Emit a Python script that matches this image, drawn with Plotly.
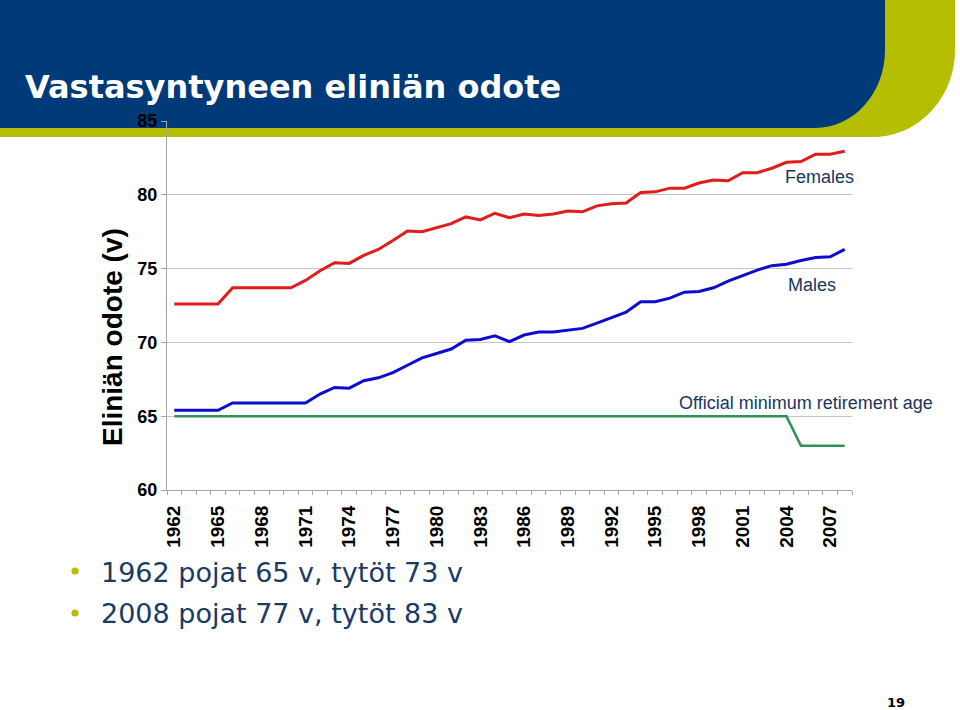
import plotly.graph_objects as go

years = list(range(1962, 2009))
females = [72.6, 72.6, 72.6, 72.6, 73.7, 73.7, 73.7, 73.7, 73.7, 74.2,
           74.85, 75.4, 75.35, 75.9, 76.3, 76.9, 77.55, 77.5, 77.8, 78.05,
           78.5, 78.3, 78.75, 78.45, 78.7, 78.6, 78.7, 78.9, 78.85, 79.25,
           79.4, 79.45, 80.15, 80.2, 80.45, 80.45, 80.8, 81.0, 80.95, 81.5,
           81.5, 81.8, 82.2, 82.25, 82.75, 82.75, 82.95]
males = [65.4, 65.4, 65.4, 65.4, 65.9, 65.9, 65.9, 65.9, 65.9, 65.9,
         66.5, 66.95, 66.9, 67.4, 67.6, 67.95, 68.45, 68.95, 69.25, 69.55,
         70.15, 70.2, 70.45, 70.05, 70.5, 70.7, 70.7, 70.85, 70.95, 71.3,
         71.65, 72.05, 72.75, 72.75, 73.0, 73.4, 73.45, 73.7, 74.15, 74.55,
         74.9, 75.2, 75.3, 75.55, 75.75, 75.8, 76.3]
retirement = [65] * 43 + [63] * 4
tick_years = list(range(1962, 2008, 3))
tick_labels = [str(y) for y in tick_years]
y_ticks = [60, 65, 70, 75, 80, 85]

W, H = 960, 710
L, R, T, B = 167, 852, 121, 490


def px(x):
    return (x - L) / (R - L)


def py(y):
    return (B - y) / (B - T)


def path(points_cmds):
    out = []
    for cmd, pts in points_cmds:
        s = cmd + " ".join(f"{px(x):.5f},{py(y):.5f}" for x, y in pts)
        out.append(s)
    return " ".join(out) + " Z"


BLUE_HDR = "#003A78"
OLIVE = "#B5BF00"
NAVY = "#17375E"

fig = go.Figure()
fig.add_trace(go.Scatter(x=years, y=retirement, mode="lines",
                         line=dict(color="#31915A", width=2.6), name="Retirement"))
fig.add_trace(go.Scatter(x=years, y=males, mode="lines",
                         line=dict(color="#0C0CD0", width=3), name="Males"))
fig.add_trace(go.Scatter(x=years, y=females, mode="lines",
                         line=dict(color="#E21B1B", width=3), name="Females"))

# header shapes
olive_path = path([
    ("M", [(0, 0)]), ("L", [(955, 0)]), ("L", [(955, 50)]),
    ("C", [(955, 98), (918, 137), (873, 137)]),
    ("L", [(0, 137)]),
])
blue_path = path([
    ("M", [(0, 0)]), ("L", [(885, 0)]), ("L", [(885, 50)]),
    ("C", [(885, 93), (854, 128), (815, 128)]),
    ("L", [(0, 128)]),
])
fig.add_shape(type="path", path=olive_path, xref="paper", yref="paper",
              fillcolor=OLIVE, line=dict(width=0), layer="below")
fig.add_shape(type="path", path=blue_path, xref="paper", yref="paper",
              fillcolor=BLUE_HDR, line=dict(width=0), layer="below")

# bullets
for yy in (571, 613):
    r = 3.6
    fig.add_shape(type="circle", xref="paper", yref="paper",
                  x0=px(75 - r), x1=px(75 + r), y0=py(yy + r), y1=py(yy - r),
                  fillcolor=OLIVE, line=dict(width=0))

annotations = [
    dict(text="Vastasyntyneen eliniän odote", x=px(23), y=py(87),
         xanchor="left", yanchor="middle",
         font=dict(family="DejaVu Sans", size=32, color="white", weight="bold")),
    dict(text="Eliniän odote (v)", x=px(112), y=py(337), textangle=-90,
         xanchor="center", yanchor="middle",
         font=dict(family="Liberation Sans", size=28, color="black", weight="bold")),
    dict(text="Females", x=px(819), y=py(177), xanchor="center", yanchor="middle",
         font=dict(family="Liberation Sans", size=18, color=NAVY)),
    dict(text="Males", x=px(812), y=py(285), xanchor="center", yanchor="middle",
         font=dict(family="Liberation Sans", size=18, color=NAVY)),
    dict(text="Official minimum retirement age", x=px(806), y=py(403),
         xanchor="center", yanchor="middle",
         font=dict(family="Liberation Sans", size=18, color=NAVY)),
    dict(text="1962 pojat 65 v, tytöt 73 v", x=px(99), y=py(572),
         xanchor="left", yanchor="middle",
         font=dict(family="DejaVu Sans", size=27, color="#1B3A66")),
    dict(text="2008 pojat 77 v, tytöt 83 v", x=px(99), y=py(613),
         xanchor="left", yanchor="middle",
         font=dict(family="DejaVu Sans", size=27, color="#1B3A66")),
    dict(text="19", x=px(896), y=py(702), xanchor="center", yanchor="middle",
         font=dict(family="DejaVu Sans", size=13, color="black", weight="bold")),
]
for a in annotations:
    a.update(xref="paper", yref="paper", showarrow=False)

fig.update_layout(
    width=W, height=H,
    margin=dict(l=L, r=W - R, t=T, b=H - B, pad=0),
    paper_bgcolor="white",
    plot_bgcolor="rgba(0,0,0,0)",
    showlegend=False,
    annotations=annotations,
    xaxis=dict(
        range=[1961.5, 2008.5],
        tickmode="array", tickvals=tick_years, ticktext=tick_labels,
        tickangle=-90,
        ticks="outside", ticklen=4, tickcolor="rgba(0,0,0,0)",
        ticklabelstandoff=3,
        tickfont=dict(family="Liberation Sans", size=19, color="black", weight="bold"),
        showgrid=False, zeroline=False,
        showline=True, linecolor="#A6A6A6", linewidth=1,
        minor=dict(tickmode="array", tickvals=[1961.5 + i for i in range(48)],
                   ticks="outside", ticklen=4, tickcolor="#A6A6A6", showgrid=False),
        fixedrange=True,
    ),
    yaxis=dict(
        range=[60, 85],
        tickmode="array", tickvals=y_ticks,
        ticks="outside", ticklen=5, tickcolor="#A6A6A6",
        tickfont=dict(family="Liberation Sans", size=18, color="black", weight="bold"),
        showgrid=True, gridcolor="#C4C4C4", gridwidth=1,
        zeroline=False,
        showline=True, linecolor="#A6A6A6", linewidth=1,
        fixedrange=True,
    ),
)

fig.write_html("out.html", config={"displayModeBar": False},
               post_script="document.body.style.margin='0px';")
